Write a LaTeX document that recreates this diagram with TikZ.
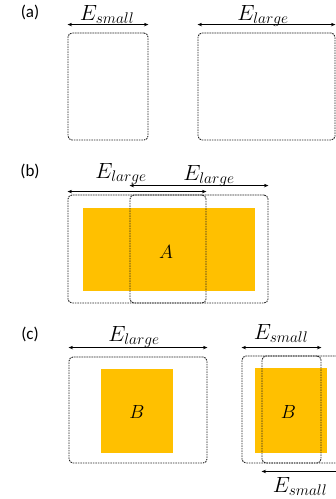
\RequirePackage{fix-cm}
\documentclass[tikz,border=0pt]{standalone}
\usepackage{fontspec}
\newfontfamily\labfont{Carlito}
\usetikzlibrary{arrows.meta,calc}
\definecolor{blockfill}{HTML}{FFC000}
\begin{document}
\begin{tikzpicture}[x=1pt,y=-1pt,
  panel/.style={font=\labfont\fontsize{17}{20}\selectfont, inner sep=0pt},
  mathlab/.style={font=\fontsize{22}{26}\selectfont, inner sep=0pt, anchor=base},
  blocklab/.style={font=\fontsize{19}{23}\selectfont, inner sep=0pt},
  win/.style={draw=black!85, line width=0.9pt, dash pattern=on 1.6pt off 0.9pt,
    rounded corners=4pt, inner sep=0pt, minimum width=#1},
  win/.default=80pt,
  block/.style={fill=blockfill, draw=none, inner sep=0pt},
  span/.style={{Stealth[length=4.5pt,width=3.5pt]}-{Stealth[length=4.5pt,width=3.5pt]}, line width=0.8pt, black}
]
\useasboundingbox (0,0) rectangle (336,499);

% ---- (a) window sizes ----
\node[panel] (pa) at (30,12) {(a)};
\node[win=80pt, minimum height=107pt] (sw) at (108,86.5) {};
\node[win=137pt, minimum height=107pt] (lw) at (266.5,86.5) {};
\draw[span] ([yshift=8pt]sw.north west) -- ([yshift=8pt]sw.north east);
\draw[span] ([yshift=8pt]lw.north west) -- ([yshift=8pt]lw.north east);
\node[mathlab] (esa) at (107,20) {$E_{small}$};
\node[mathlab] (ela) at (263,20) {$E_{large}$};

% ---- (b) large windows over region A ----
\node[panel] (pb) at (30,171) {(b)};
\node[block, minimum width=172pt, minimum height=83pt] (ra) at (169,249.5) {};
\node[blocklab] (ta) at (166,252) {$A$};
\node[win=138pt, minimum height=108pt] (b1) at (137,249) {};
\node[win=138pt, minimum height=108pt] (b2) at (199,249) {};
\draw[span] ([yshift=3pt]b1.north west) -- ([yshift=3pt]b1.north east);
\draw[span] ([yshift=9pt]b2.north west) -- ([yshift=9pt]b2.north east);
\node[mathlab] (elb1) at (121,178) {$E_{large}$};
\node[mathlab] (elb2) at (209,180) {$E_{large}$};

% ---- (c) windows over region B ----
\node[panel] (pc) at (30,334) {(c)};
\node[block, minimum width=72pt, minimum height=84pt] (rb1) at (137,411) {};
\node[blocklab] (tb1) at (137,412) {$B$};
\node[win=138pt, minimum height=106pt] (c1) at (138,410) {};
\draw[span] ([yshift=9pt]c1.north west) -- ([yshift=9pt]c1.north east);
\node[mathlab] (elc) at (134,341) {$E_{large}$};

\node[block, minimum width=72pt, minimum height=85pt] (rb2) at (291,410.5) {};
\node[blocklab] (tb2) at (288.5,412) {$B$};
\node[win=79pt, minimum height=107pt] (c2) at (281.5,409.5) {};
\node[win=79pt, minimum height=107pt] (c3) at (301.5,409.5) {};
\draw[span] ([yshift=8pt]c2.north west) -- ([yshift=8pt]c2.north east);
\draw[span] ([yshift=-8pt]c3.south west) -- ([yshift=-8pt]c3.south east);
\node[mathlab] (esc1) at (281,339) {$E_{small}$};
\node[mathlab] (esc2) at (300,492) {$E_{small}$};
\end{tikzpicture}
\end{document}
